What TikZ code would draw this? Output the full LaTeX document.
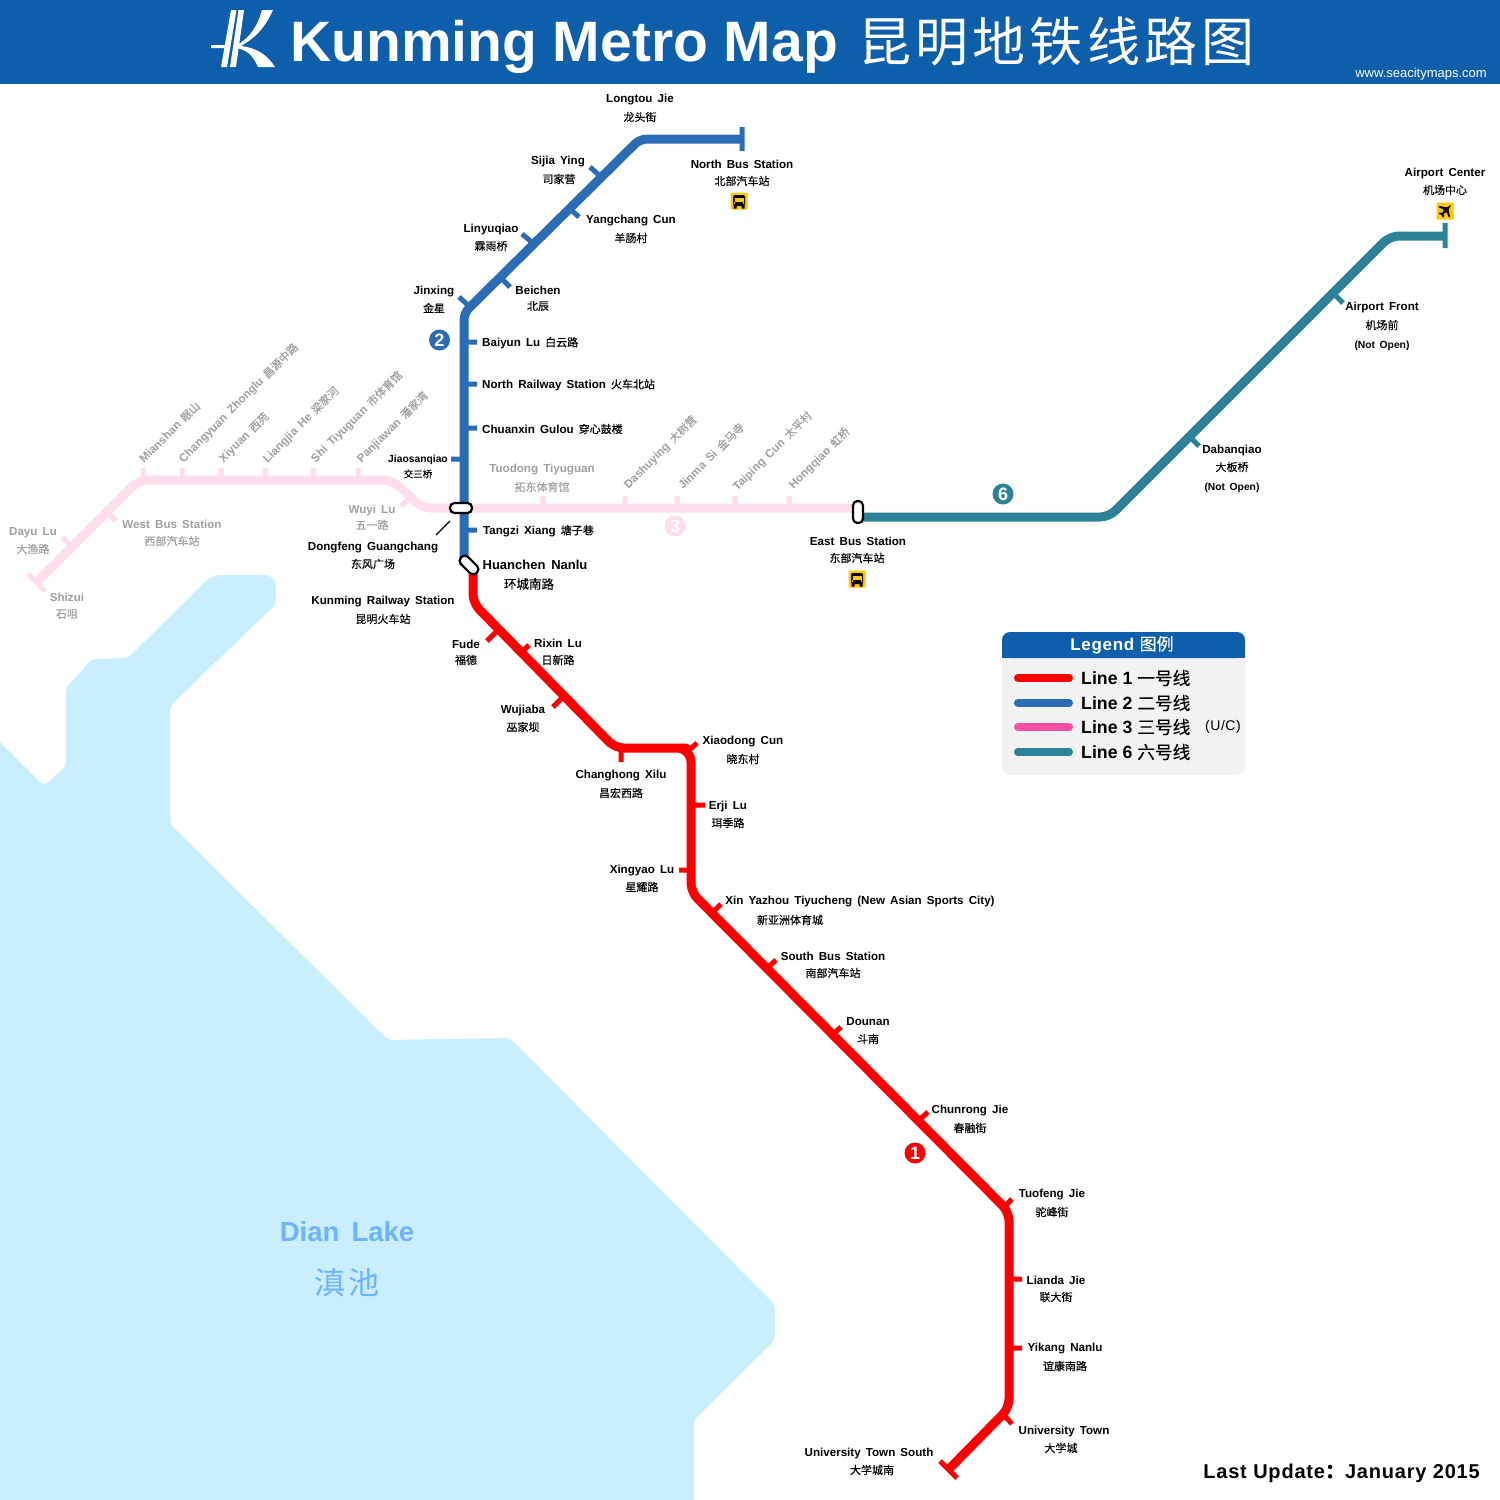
\documentclass[tikz,border=0pt]{standalone}
\usepackage{fontspec}
\setmainfont{Liberation Sans}
\newfontfamily\lat[LetterSpace=4]{Liberation Sans}
\newfontfamily\lab[WordSpace=1.6]{Liberation Sans}
\newfontfamily\cjk[FakeBold=0.25]{Noto Sans CJK SC}
\newfontfamily\cjkl{Noto Sans CJK SC}
\newfontfamily\cjkw[LetterSpace=8]{Noto Sans CJK SC}
\definecolor{hdr}{HTML}{0D5EAB}
\definecolor{lred}{HTML}{FF0000}
\definecolor{lblue}{HTML}{2A6CB5}
\definecolor{lpink}{HTML}{FFDDEC}
\definecolor{lpink3}{HTML}{FF4FA3}
\definecolor{lteal}{HTML}{2C8299}
\definecolor{water}{HTML}{C9EEFF}
\definecolor{lakec}{HTML}{6DB3FF}
\definecolor{grey1}{HTML}{A0A0A0}
\definecolor{bus}{HTML}{FFC800}
\tikzset{
 x=1pt,y=-1pt,
 en/.style={inner sep=0pt,yshift=-1pt,font=\lab\bfseries\fontsize{11.6}{14}\selectfont},
 cn/.style={inner sep=0pt,font=\cjk\fontsize{11}{12}\selectfont},
 gr/.style={text=grey1},
 sm/.style={font=\lab\bfseries\fontsize{10.3}{12}\selectfont},
 rl/.style={inner sep=0pt,anchor=west,rotate=45,text=grey1,font=\lab\bfseries\fontsize{11.6}{14}\selectfont},
 line/.style={line width=9pt,rounded corners=9pt,line join=round},
 tk/.style={line width=5pt},
 hub/.style={draw=black,fill=white,line width=2.2pt,rounded corners=4.5pt,inner sep=0pt,minimum width=22pt,minimum height=10pt},
 num/.style={circle,inner sep=0pt,minimum size=21pt,font=\lab\bfseries\fontsize{18}{18}\selectfont,text=white},
}
\newcommand\stn[7][]{%
 \node[en,#1] (#2) at (#3,#4) {#5};
 \node[cn,#1] (#2-c) at (#6) {#7};}
\newcommand\inl[5]{\node[en,anchor=west] (#1) at (#2,#3) {#4\hspace{5pt}{\cjk\mdseries\fontsize{11}{12}\selectfont #5}};}
\newcommand\rot[5]{\node[rl] (#1) at (#2,#3) {#4\hspace{5pt}{\cjk\mdseries\fontsize{11}{12}\selectfont #5}};}
\newcommand\busicon[2]{%
 \begin{scope}[shift={(#1,#2)}]
 \fill[bus,rounded corners=1pt] (-8.5,-8.5) rectangle (8.5,8.5);
 \fill[black,rounded corners=2pt] (-6,-6) rectangle (6,5);
 \fill[black] (-5.5,4) rectangle (-2.5,7.5) (2.5,4) rectangle (5.5,7.5);
 \fill[bus] (-4.5,-3.5) rectangle (4.5,0.5);
 \fill[bus] (-4.6,2.1) circle (1.0) (4.6,2.1) circle (1.0);
 \end{scope}}
\begin{document}
\begin{tikzpicture}
\useasboundingbox (0,0) rectangle (1500,1500);
\fill[white] (0,0) rectangle (1500,1500);
% header
\fill[hdr] (0,0) rectangle (1500,84);
\fill[white] (231,10)--(236.5,10)--(227,67)--(221,67)--cycle;
\fill[white] (238.5,10)--(244,10)--(236,67)--(230,67)--cycle;
\fill[white] (211,45)--(229,45)--(228.5,48)--(211,48)--cycle;
\fill[white] (262,10)--(273,10) .. controls (265,28) and (255,38) .. (241,46) .. controls (258,48) and (268,56) .. (275,67) -- (258,67) .. controls (253,56) and (248,50) .. (236,48) -- (237,45) .. controls (250,38) and (258,25) .. cycle;
\node[inner sep=0pt,anchor=base west,text=white,font=\bfseries\fontsize{57}{60}\selectfont] (title) at (290,61) {Kunming Metro Map};
\node[inner sep=0pt,anchor=west,text=white,font=\cjkw\fontsize{53}{55}\selectfont] (titlecn) at (858,41) {昆明地铁线路图};
\node[inner sep=0pt,anchor=east,text=white,font=\fontsize{13}{14}\selectfont] (web) at (1487,74) {www.seacitymaps.com};
% water
\fill[water,rounded corners=5pt] (-5,737)--(44,786)--(66,766)--(66,688)--(92,659)--(128,658)--(207,580)--(215,575)--(270,575)--(276,582)--(276,604)--(170,706)--(170,824)--(388,1040)--(510,1038)--(775,1305)--(775,1340)--(694,1420)--(694,1505)--(-5,1505)--cycle;
\node[inner sep=0pt,text=lakec,font=\lab\bfseries\fontsize{27.5}{30}\selectfont] (lake) at (347,1232) {Dian Lake};
\node[inner sep=0pt,text=lakec,font=\cjkw\fontsize{31}{33}\selectfont] (lakecn) at (347,1283) {滇池};
% line 3
\draw[lpink,tk] (143,468)--(143,480) (182,468)--(182,480) (221,468)--(221,480) (265,468)--(265,480) (313,468)--(313,480) (358,468)--(358,480)
 (543,496)--(543,508) (625,496)--(625,508) (677,496)--(677,508) (735,496)--(735,508) (789,496)--(789,508)
 (62,537)--(72,547) (107,512)--(116,521) (401,506)--(411,497) (28,574)--(45,591);
\draw[lpink,line] (37,582)--(139,480)--(392,480)--(422,508)--(858,508);
% line 6
\draw[lteal,tk] (1334,294)--(1343,303) (1190,437)--(1199,446) (1445,223)--(1445,248);
\draw[lteal,line] (858,517)--(1109,517)--(1390,236)--(1445,236);
% line 2
\draw[lblue,tk] (590,167)--(600,176) (569,208)--(579,217) (522,234)--(533,243) (499,276)--(510,287) (459,297)--(469,306)
 (464,342)--(477,342) (464,384)--(477,384) (464,428)--(477,428) (451,459)--(464,459) (464,530)--(477,530) (742,127)--(742,151);
\draw[lblue,line,rounded corners=7pt] (742,139)--(640,139)--(464,313)--(464,565);
% line 1
\draw[lred,tk] (487,641)--(496,632) (520,654)--(529,645) (553,707)--(562,698) (621,748)--(621,762) (687,752)--(697,743) (691,805)--(705,805)
 (679,870)--(691,870) (712,913)--(721,904) (766,969)--(776,960) (831,1036)--(841,1027) (917,1122)--(928,1112) (1004,1207)--(1012,1199)
 (1009,1279)--(1022,1279) (1009,1348)--(1022,1348) (1003,1414)--(1012,1424) (940,1461)--(957,1478);
\draw[lred,line] (473,570)--(473,603)--(615,748)--(677,748) [rounded corners=14pt] --(691,748)--(691,785) [rounded corners=9pt] --(691,892)--(1009,1212)--(1009,1408)--(950,1468);
% interchange markers
\node[hub] (hubA) at (461,508) {};
\node[hub,rotate=-45] (hubB) at (469,565) {};
\node[hub,rotate=90] (hubC) at (858,512) {};
\coordinate (dg) at (436,535);
\coordinate (dh) at (450,521);
\draw[black,line width=1.2pt] (dg)--(dh);
% line numbers
\node[num,fill=lblue] (n2) at (439.5,340) {2};
\node[num,fill=lteal] (n6) at (1003,494) {6};
\node[num,fill=lpink] (n3) at (675,526) {3};
\node[num,fill=lred] (n1) at (915,1153) {1};
% line 2 labels
\stn{a1}{640}{99}{Longtou Jie}{640,117}{龙头街}
\stn{a2}{742}{163}{North Bus Station}{742,181}{北部汽车站}
\stn{a3}{558}{161}{Sijia Ying}{559,179}{司家营}
\stn{a4}{631}{220}{Yangchang Cun}{631,238}{羊肠村}
\stn{a5}{491}{228}{Linyuqiao}{491,246}{霖雨桥}
\stn{a6}{538}{289}{Beichen}{538,306}{北辰}
\stn{a7}{434}{291}{Jinxing}{434,308}{金星}
\inl{a8}{482}{342}{Baiyun Lu}{白云路}
\inl{a9}{482}{384}{North Railway Station}{火车北站}
\inl{a10}{482}{428}{Chuanxin Gulou}{穿心鼓楼}
\node[en,sm] (a11) at (418,459) {Jiaosanqiao};
\node[cn,font=\cjk\fontsize{9.5}{11}\selectfont] (a11b) at (418,474) {交三桥};
\inl{a12}{483}{530}{Tangzi Xiang}{塘子巷}
\node[en,font=\lab\bfseries\fontsize{13}{15}\selectfont] (a13) at (535,564) {Huanchen Nanlu};
\node[cn,font=\cjk\fontsize{12.5}{14}\selectfont] (a13c) at (529,584) {环城南路};
\stn{a14}{373}{547}{Dongfeng Guangchang}{373,564}{东风广场}
% line 1 labels
\stn{b1}{383}{601}{Kunming Railway Station}{383,619}{昆明火车站}
\stn{b2}{466}{643}{Fude}{466,660}{福德}
\stn{b3}{558}{642}{Rixin Lu}{558,660}{日新路}
\stn{b4}{523}{709}{Wujiaba}{523,727}{巫家坝}
\stn{b5}{621}{775}{Changhong Xilu}{621,793}{昌宏西路}
\stn{b6}{743}{741}{Xiaodong Cun}{743,759}{晓东村}
\stn{b7}{728}{805}{Erji Lu}{728,823}{珥季路}
\stn{b8}{642}{870}{Xingyao Lu}{642,887}{星耀路}
\stn{b9}{860}{901}{Xin Yazhou Tiyucheng (New Asian Sports City)}{790,920}{新亚洲体育城}
\stn{b10}{833}{955}{South Bus Station}{833,973}{南部汽车站}
\stn{b11}{868}{1021}{Dounan}{868,1039}{斗南}
\stn{b12}{970}{1110}{Chunrong Jie}{970,1128}{春融街}
\stn{b13}{1052}{1194}{Tuofeng Jie}{1052,1212}{驼峰街}
\stn{b14}{1056}{1279}{Lianda Jie}{1056,1297}{联大街}
\stn{b15}{1065}{1348}{Yikang Nanlu}{1065,1366}{谊康南路}
\stn{b16}{1064}{1430}{University Town}{1061,1448}{大学城}
\stn{b17}{869}{1452}{University Town South}{872,1470}{大学城南}
% line 6 labels
\stn{c1}{858}{540}{East Bus Station}{857,558}{东部汽车站}
\stn{c2}{1445}{172}{Airport Center}{1445,190}{机场中心}
\stn{c3}{1382}{306}{Airport Front}{1382,325}{机场前}
\node[en,sm] (c3n) at (1382,345) {(Not Open)};
\stn{c4}{1232}{449}{Dabanqiao}{1232,467}{大板桥}
\node[en,sm] (c4n) at (1232,487) {(Not Open)};
% line 3 labels
\stn[gr]{d1}{172}{523}{West Bus Station}{172,541}{西部汽车站}
\stn[gr]{d2}{33}{532}{Dayu Lu}{33,549}{大渔路}
\stn[gr]{d3}{67}{596}{Shizui}{67,614}{石咀}
\stn[gr]{d4}{372}{509}{Wuyi Lu}{372,525}{五一路}
\stn[gr]{d5}{542}{469}{Tuodong Tiyuguan}{542,487}{拓东体育馆}
\rot{e1}{141}{461}{Mianshan}{眠山}
\rot{e2}{181}{461}{Changyuan Zhonglu}{昌源中路}
\rot{e3}{221}{461}{Xiyuan}{西苑}
\rot{e4}{265}{461}{Liangjia He}{梁家河}
\rot{e5}{313}{461}{Shi Tiyuguan}{市体育馆}
\rot{e6}{359}{461}{Panjiawan}{潘家湾}
\rot{e7}{626}{487}{Dashuying}{大树营}
\rot{e8}{680}{487}{Jinma Si}{金马寺}
\rot{e9}{735}{489}{Taiping Cun}{太平村}
\rot{e10}{791}{487}{Hongqiao}{虹桥}
% icons
\busicon{739}{201}
\busicon{857}{579}
\begin{scope}[shift={(1445,211)}]
 \fill[bus,rounded corners=1pt] (-8.5,-8.5) rectangle (8.5,8.5);
 \fill[black] (6,-6) -- (1.5,-3.5) -- (-5.5,-5) -- (-6.5,-4) -- (-1,-1) -- (-3,2) -- (-5.5,1.5) -- (-6.5,2.5) -- (-3.5,4) -- (-2,6.5) -- (-1,5.5) -- (-1.5,3) -- (1.5,1) -- (4,6.5) -- (5,5.5) -- (3.5,-1.5) -- cycle;
\end{scope}
% legend
\fill[black!5,rounded corners=8pt] (1002,632) rectangle (1245,775);
\fill[hdr,rounded corners=8pt] (1002,658)--(1002,632)--(1245,632)--(1245,658)--cycle;
\fill[hdr] (1002,648) rectangle (1245,658);
\node[inner sep=0pt,text=white,font=\lat\bfseries\fontsize{17}{19}\selectfont] (lt) at (1122,645) {Legend {\cjk\mdseries 图例}};
\foreach \yy/\cc/\nm/\tt in {678/lred/1/Line 1 {\cjk\mdseries 一号线},703/lblue/2/Line 2 {\cjk\mdseries 二号线},727/lpink3/3/Line 3 {\cjk\mdseries 三号线},752/lteal/6/Line 6 {\cjk\mdseries 六号线}}{
 \coordinate (lg\nm a) at (1018,\yy);
 \coordinate (lg\nm b) at (1069,\yy);
 \draw[\cc,line width=8pt,line cap=round] (lg\nm a)--(lg\nm b);
 \node[inner sep=0pt,anchor=west,font=\bfseries\fontsize{17.7}{20}\selectfont] (lg\nm) at (1081,\yy) {\tt};
}
\node[inner sep=0pt,anchor=east,font=\lat\fontsize{14}{16}\selectfont] (uc) at (1241,727) {(U/C)};
\node[inner sep=0pt,anchor=east,font=\lat\bfseries\fontsize{20}{22}\selectfont] (upd) at (1480,1473) {Last Update{\cjk ：}January 2015};
\end{tikzpicture}
\end{document}
